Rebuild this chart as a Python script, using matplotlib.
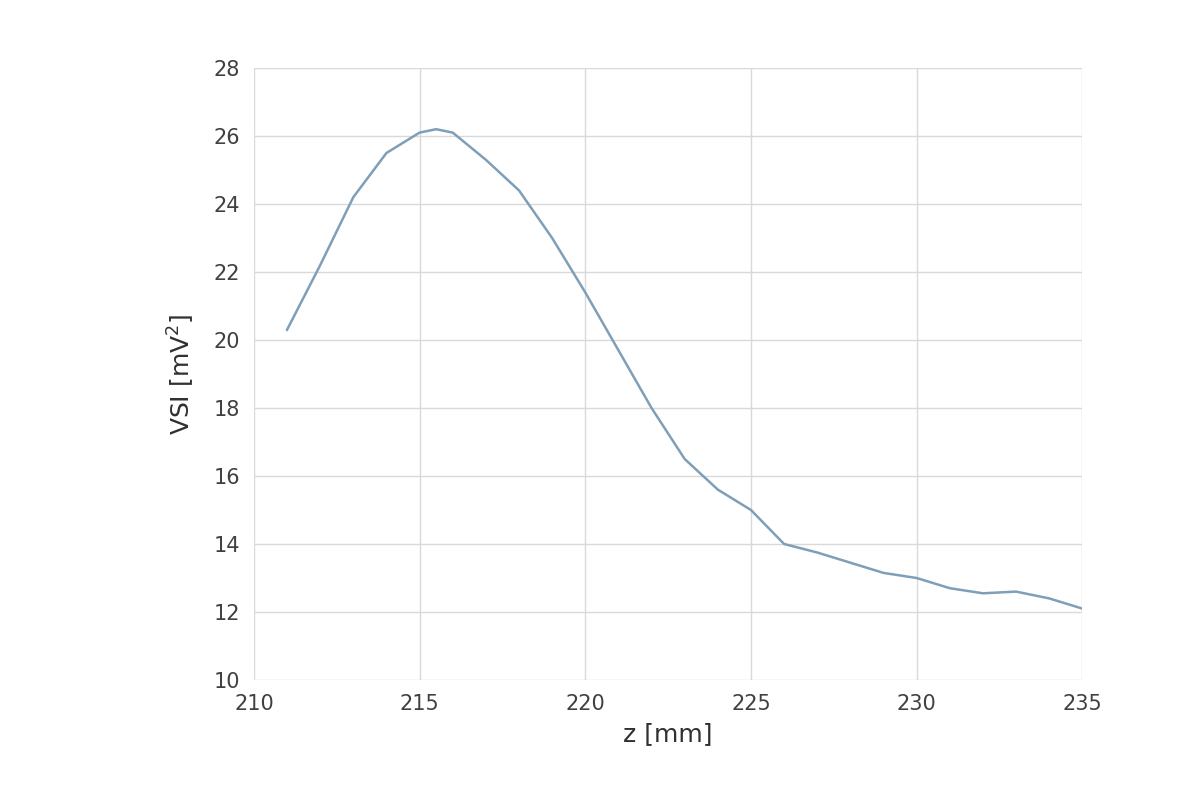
import matplotlib
matplotlib.use("Agg")
import matplotlib.pyplot as plt

z = [211, 212, 213, 214, 215, 215.5, 216, 217, 218, 219, 220, 221, 222, 223, 224, 225, 226, 227, 228, 229, 230, 231, 232, 233, 234, 235]
vsi = [20.3, 22.2, 24.2, 25.5, 26.1, 26.2, 26.1, 25.3, 24.4, 23.0, 21.4, 19.7, 18.0, 16.5, 15.6, 15.0, 14.0, 13.75, 13.45, 13.15, 13.0, 12.7, 12.55, 12.6, 12.4, 12.1]
xticks = [210, 215, 220, 225, 230, 235]
yticks = [10, 12, 14, 16, 18, 20, 22, 24, 26, 28]

fig = plt.figure(figsize=(11.92, 8), dpi=100)
ax = fig.add_axes([0.213, 0.15, 0.695, 0.765])
ax.plot(z, vsi, color="#7f9fb8", lw=1.8)
ax.set_xlim(210, 235)
ax.set_ylim(10, 28)
ax.set_xticks(xticks)
ax.set_yticks(yticks)
ax.grid(True, color="#d9d9d9", lw=1)
for s in ax.spines.values():
    s.set_visible(False)
ax.tick_params(length=0, labelsize=15, colors="#404040", pad=10)
ax.set_xlabel("z [mm]", fontsize=18, color="#303030", labelpad=6)
ax.set_ylabel("VSI [mV$^2$]", fontsize=18, color="#303030", labelpad=12)
fig.savefig("out.png", dpi=100)
